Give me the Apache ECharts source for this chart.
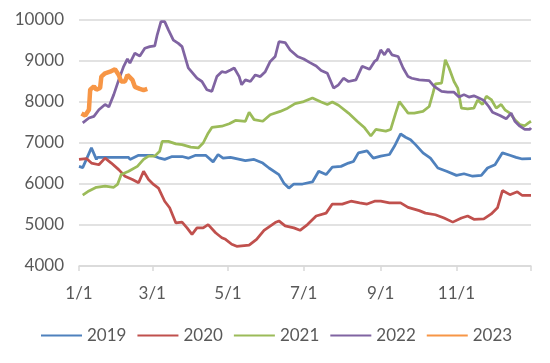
<!DOCTYPE html>
<html><head><meta charset="utf-8">
<script src="https://cdn.jsdelivr.net/npm/echarts@6/dist/echarts.min.js"></script>
<style>html,body{margin:0;padding:0;background:#fff}#c{width:550px;height:363px}</style>
</head><body><div id="c"></div>
<script>
// x = day of year (0 = 1/1), y = value
const xTickDays = [0, 59, 120, 181, 243, 304];
const xTickLabels = ['1/1', '3/1', '5/1', '7/1', '9/1', '11/1'];
const seriesNames = ['2019', '2020', '2021', '2022', '2023'];

const s2019 = [[0,6430],[3,6400],[10,6880],[14,6600],[15,6650],[27,6650],[40,6650],[41,6600],[48,6700],[59,6700],[65,6630],[69,6600],[75,6670],[83,6670],[88,6630],[94,6700],[102,6700],[108,6540],[112,6720],[116,6630],[122,6650],[134,6570],[141,6600],[148,6510],[153,6390],[161,6230],[165,6020],[169,5900],[173,6000],[180,6000],[188,6050],[193,6310],[199,6230],[204,6410],[211,6430],[217,6510],[221,6550],[225,6760],[232,6810],[237,6630],[243,6680],[250,6720],[254,6920],[259,7220],[263,7140],[267,7080],[271,6960],[277,6760],[283,6630],[289,6390],[296,6310],[304,6210],[310,6250],[317,6190],[324,6210],[329,6390],[335,6470],[341,6760],[347,6700],[352,6650],[357,6610],[364,6620]];

const s2020 = [[0,6600],[6,6620],[10,6510],[16,6470],[21,6630],[26,6510],[32,6350],[37,6190],[43,6110],[48,6030],[52,6310],[56,6110],[60,5990],[64,5900],[69,5580],[73,5420],[78,5050],[83,5070],[87,4930],[91,4770],[95,4930],[100,4930],[104,5010],[110,4810],[115,4690],[118,4650],[123,4530],[127,4480],[137,4510],[143,4650],[149,4870],[158,5060],[161,5100],[166,4980],[173,4930],[178,4870],[184,5010],[191,5220],[199,5290],[204,5510],[212,5510],[219,5580],[226,5540],[232,5510],[238,5580],[243,5580],[250,5540],[259,5540],[265,5430],[274,5350],[279,5290],[287,5250],[294,5170],[301,5070],[308,5170],[313,5220],[318,5140],[326,5150],[332,5270],[337,5420],[341,5840],[347,5740],[353,5810],[357,5720],[364,5720]];

const s2021 = [[3,5730],[8,5830],[14,5920],[21,5950],[28,5920],[31,5990],[34,6230],[40,6310],[47,6430],[52,6600],[56,6680],[61,6680],[65,6800],[67,7040],[72,7040],[78,6980],[83,6960],[90,6900],[96,6880],[100,7000],[104,7240],[107,7380],[115,7410],[121,7470],[126,7550],[134,7530],[137,7750],[141,7570],[148,7530],[154,7690],[162,7770],[168,7850],[174,7960],[181,8010],[188,8100],[195,8000],[200,7940],[204,8000],[209,7920],[217,7730],[224,7530],[230,7370],[235,7170],[239,7330],[247,7290],[251,7330],[255,7730],[258,8010],[262,7850],[265,7730],[270,7730],[277,7770],[282,7890],[285,8210],[287,8440],[292,8460],[295,9030],[298,8830],[302,8500],[305,8340],[308,7850],[313,7830],[318,7850],[321,8050],[325,7940],[328,8140],[332,8060],[336,7850],[340,7940],[343,7810],[347,7730],[351,7570],[355,7450],[359,7420],[362,7490],[364,7530]];

const s2022 = [[3,7490],[8,7610],[12,7650],[16,7810],[21,7940],[24,7880],[28,8180],[32,8540],[36,8870],[39,9050],[41,8950],[45,9190],[49,9120],[53,9310],[57,9350],[61,9370],[63,9640],[66,9960],[69,9960],[72,9760],[76,9510],[80,9430],[83,9350],[88,8830],[95,8580],[99,8500],[103,8300],[107,8260],[111,8620],[115,8740],[118,8720],[122,8780],[125,8830],[129,8620],[131,8420],[134,8540],[138,8500],[142,8660],[146,8620],[150,8740],[154,8990],[158,9110],[161,9470],[166,9450],[170,9270],[176,9110],[181,9050],[186,8960],[191,8880],[195,8770],[200,8700],[205,8340],[209,8420],[213,8580],[217,8500],[223,8540],[228,8870],[234,8800],[238,8990],[240,9030],[243,9270],[246,9150],[249,9290],[252,9150],[257,9110],[261,8830],[265,8620],[268,8580],[274,8540],[282,8520],[286,8380],[292,8260],[297,8240],[302,8240],[306,8120],[310,8180],[314,8120],[318,8150],[322,8100],[326,8040],[330,7890],[333,7750],[339,7670],[344,7590],[348,7730],[351,7530],[355,7410],[359,7330],[363,7330],[364,7370]];

const s2023 = [[2,7720],[5,7670],[8,7810],[9,8300],[12,8380],[14,8300],[17,8340],[18,8620],[21,8700],[25,8740],[29,8800],[32,8660],[34,8500],[37,8500],[39,8660],[43,8540],[45,8370],[49,8320],[52,8290],[55,8320]];

const allData = [s2019, s2020, s2021, s2022, s2023];
const colors = ['#4F81BD', '#C0504D', '#9BBB59', '#8064A2', '#F79646'];
const widths = [2.75, 2.75, 2.75, 2.75, 4.5];
const FONT = 'Lato';
const TXT = '#595959';

const chart = echarts.init(document.getElementById('c'), null, {renderer: 'canvas'});
chart.setOption({
  animation: false,
  backgroundColor: '#fff',
  grid: {left: 79, right: 19, top: 20, bottom: 97},
  legend: {
    left: 35, top: 322,
    itemWidth: 41, itemHeight: 12, itemGap: 10,
    itemStyle: {opacity: 0},
    textStyle: {fontFamily: FONT, fontSize: 17, color: TXT},
    data: seriesNames
  },
  xAxis: {
    type: 'value', min: 0, max: 364,
    axisLine: {show: true, lineStyle: {color: '#D9D9D9', width: 1.5}},
    axisTick: {show: true, length: 5, lineStyle: {color: '#D9D9D9', width: 1.5},
               customValues: xTickDays.concat([364])},
    axisLabel: {customValues: xTickDays, margin: 19,
                fontFamily: FONT, fontSize: 17, color: TXT,
                formatter: v => { const i = xTickDays.indexOf(v); return i >= 0 ? xTickLabels[i] : ''; }},
    splitLine: {show: false}
  },
  yAxis: {
    type: 'value', min: 4000, max: 10000, interval: 1000,
    axisLine: {show: false}, axisTick: {show: false},
    axisLabel: {margin: 15, fontFamily: FONT, fontSize: 17, color: TXT, formatter: v => String(v)},
    splitLine: {lineStyle: {color: '#D9D9D9', width: 1.5}}
  },
  series: seriesNames.map((n, i) => ({
    name: n, type: 'line', data: allData[i],
    showSymbol: false, symbol: 'none',
    lineStyle: {color: colors[i], width: widths[i]},
    itemStyle: {color: colors[i]},
    z: i === 4 ? 10 : 2
  }))
});
</script></body></html>
